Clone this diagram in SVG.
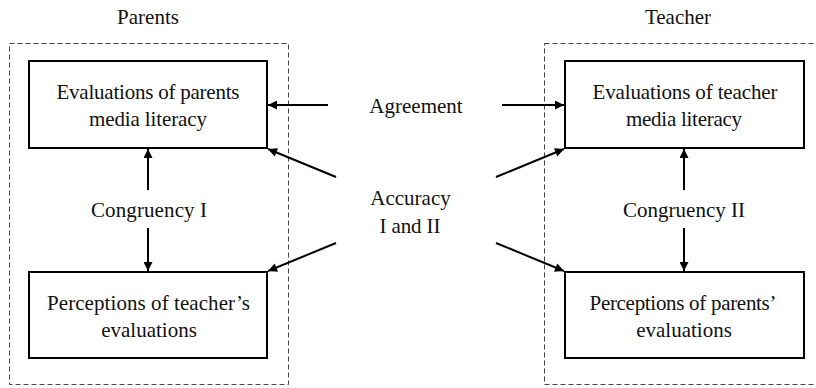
<svg xmlns="http://www.w3.org/2000/svg" width="816" height="388" viewBox="0 0 816 388">
<style>
  text { font-family: "Liberation Serif", "Times New Roman", serif; font-size: 21px; fill: #111; text-anchor: middle; }
  .group { fill: none; stroke: #444; stroke-width: 1; stroke-dasharray: 5 3; }
  .box { fill: #fff; stroke: #000; stroke-width: 2; }
  .conn { fill: none; stroke: #000; stroke-width: 2; marker-end: url(#ah); }
</style>
<defs>
  <marker id="ah" viewBox="0 0 10 10" refX="10" refY="5" markerWidth="5" markerHeight="4.5" markerUnits="strokeWidth" orient="auto">
    <path d="M0,0 L10,5 L0,10 z" fill="#000"/>
  </marker>
</defs>
<rect width="816" height="388" fill="#fff"/>

<g id="parents-group">
  <rect class="group" x="9.5" y="43.5" width="279" height="341"/>
  <text x="148" y="24">Parents</text>
</g>
<g id="teacher-group">
  <rect class="group" x="544.5" y="43.5" width="280" height="341"/>
  <text x="678" y="24">Teacher</text>
</g>

<g id="eval-parents">
  <rect class="box" x="29" y="61" width="238" height="87"/>
  <text x="148" y="99" textLength="183" lengthAdjust="spacing">Evaluations of parents</text>
  <text x="148" y="126" textLength="118" lengthAdjust="spacing">media literacy</text>
</g>
<g id="perc-teacher">
  <rect class="box" x="29" y="272" width="238" height="86"/>
  <text x="148.5" y="310" textLength="203" lengthAdjust="spacing">Perceptions of teacher’s</text>
  <text x="149" y="337">evaluations</text>
</g>
<g id="eval-teacher">
  <rect class="box" x="565" y="61" width="239" height="87"/>
  <text x="685" y="99" textLength="185" lengthAdjust="spacing">Evaluations of teacher</text>
  <text x="684" y="126" textLength="116" lengthAdjust="spacing">media literacy</text>
</g>
<g id="perc-parents">
  <rect class="box" x="565" y="272" width="239" height="86"/>
  <text x="683" y="310" textLength="187" lengthAdjust="spacing">Perceptions of parents’</text>
  <text x="684" y="337">evaluations</text>
</g>

<g id="agreement">
  <text x="416" y="113">Agreement</text>
</g>
<g id="accuracy">
  <text x="410.5" y="205">Accuracy</text>
  <text x="410" y="233" textLength="61" lengthAdjust="spacing">I and II</text>
</g>
<g id="congruency-1">
  <text x="149" y="217" textLength="116" lengthAdjust="spacing">Congruency I</text>
</g>
<g id="congruency-2">
  <text x="684" y="217" textLength="122" lengthAdjust="spacing">Congruency II</text>
</g>

<g id="connectors">
  <line class="conn" x1="328" y1="105" x2="268" y2="105"/>
  <line class="conn" x1="502" y1="105" x2="564" y2="105"/>
  <line class="conn" x1="336" y1="177" x2="268" y2="149"/>
  <line class="conn" x1="336" y1="243" x2="268" y2="271"/>
  <line class="conn" x1="496" y1="177" x2="564" y2="149"/>
  <line class="conn" x1="496" y1="243" x2="564" y2="271"/>
  <line class="conn" x1="148" y1="190" x2="148" y2="149"/>
  <line class="conn" x1="148" y1="228" x2="148" y2="271"/>
  <line class="conn" x1="684" y1="190" x2="684" y2="149"/>
  <line class="conn" x1="684" y1="228" x2="684" y2="271"/>
</g>
</svg>
